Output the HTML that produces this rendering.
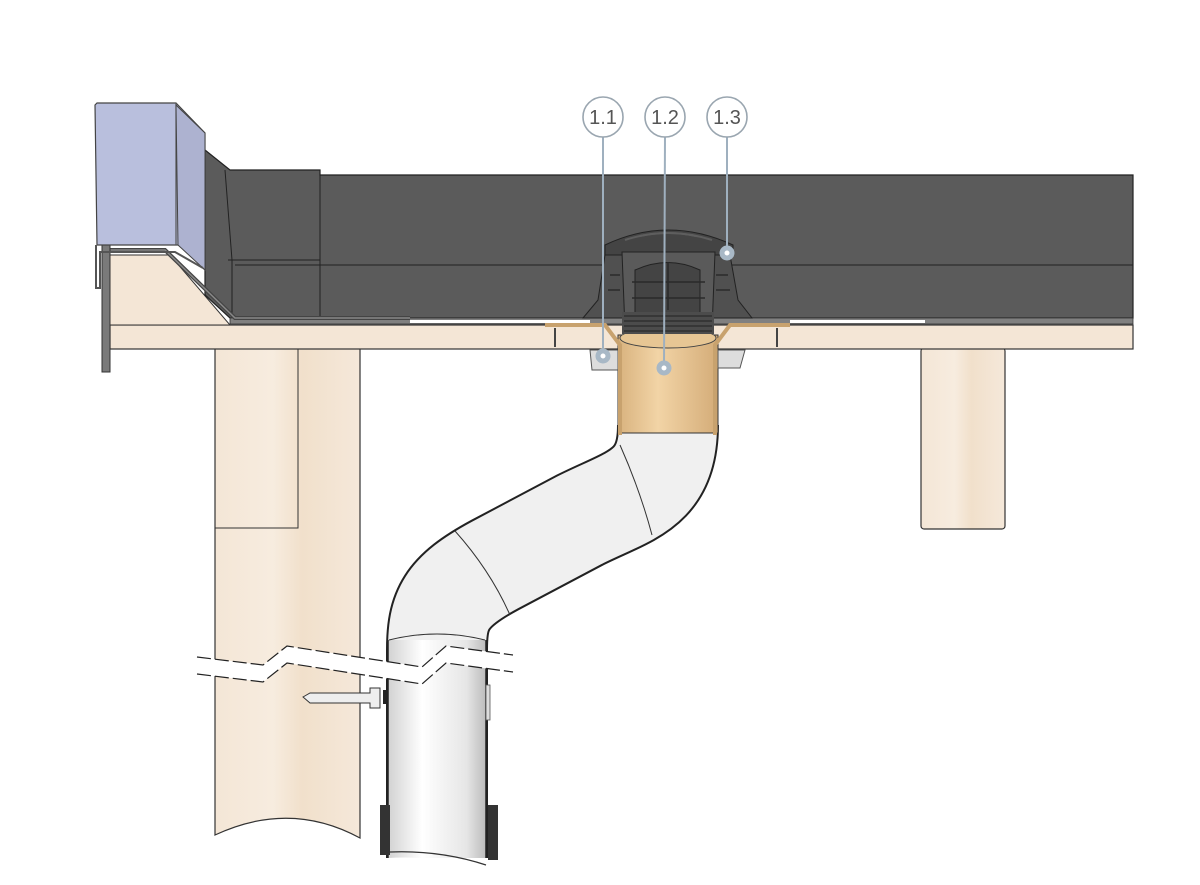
<!DOCTYPE html>
<html><head><meta charset="utf-8"><style>html,body{margin:0;padding:0;background:#fff}svg{display:block}</style></head>
<body>
<svg width="1200" height="885" viewBox="0 0 1200 885" xmlns="http://www.w3.org/2000/svg">
<defs>
<linearGradient id="wood" x1="0" x2="1" y1="0" y2="0">
<stop offset="0" stop-color="#f4e6d6"/><stop offset="0.4" stop-color="#f7ecdf"/><stop offset="0.6" stop-color="#f1e0cb"/><stop offset="1" stop-color="#f5e8da"/></linearGradient>
<linearGradient id="pipeV" x1="0" x2="1"><stop offset="0" stop-color="#d2d2d2"/><stop offset="0.35" stop-color="#ffffff"/><stop offset="0.8" stop-color="#e6e6e6"/><stop offset="1" stop-color="#bcbcbc"/></linearGradient>
<linearGradient id="brass" x1="0" x2="1"><stop offset="0" stop-color="#d8b27e"/><stop offset="0.4" stop-color="#f2d4a6"/><stop offset="1" stop-color="#d4ac78"/></linearGradient>
</defs>

<path d="M215 348 H360 V838 Q290 800 215 835 Z" fill="url(#wood)" stroke="#333" stroke-width="1.2"/>
<path d="M215 528 H298 V348" fill="none" stroke="#333" stroke-width="1"/>
<rect x="921" y="348" width="84" height="181" rx="3" fill="url(#wood)" stroke="#333" stroke-width="1.2"/>

<rect x="110" y="325" width="1023" height="24" fill="#f4e6d6" stroke="#333" stroke-width="1.2"/>
<path d="M110 255 H170 L230 325 H110 Z" fill="#f4e6d6" stroke="#333" stroke-width="1"/>

<path d="M205 150 L230 170 H320 V175 H1133 V318 H230 L205 295 Z" fill="#5b5b5b" stroke="#222" stroke-width="1.2"/>
<line x1="235" y1="265" x2="1133" y2="265" stroke="#222" stroke-width="1"/>
<line x1="228" y1="260" x2="320" y2="260" stroke="#222" stroke-width="1"/>
<line x1="320" y1="170" x2="320" y2="318" stroke="#222" stroke-width="1"/>
<path d="M225 170 L232 260 V318" fill="none" stroke="#222" stroke-width="1"/>
<rect x="230" y="318" width="903" height="6" fill="#808080" stroke="#333" stroke-width="0.8"/>
<rect x="410" y="320" width="180" height="3" fill="#fff"/>
<rect x="790" y="320" width="135" height="3" fill="#fff"/>
<path d="M105 250 H165 L235 318 H410" fill="none" stroke="#444" stroke-width="4"/>
<path d="M105 250 H165 L235 318 H410" fill="none" stroke="#888" stroke-width="1.5"/>

<rect x="102" y="245" width="8" height="127" fill="#7a7a7a" stroke="#333" stroke-width="1"/>
<path d="M95 105 L97 103 H176 L205 133 V270 L180 245 H97 Z" fill="#b9bfdd" stroke="#444" stroke-width="1.2"/>
<path d="M176 103 V245" stroke="#555" stroke-width="1.2"/>
<path d="M176 105 L205 133 V270 L178 245 Z" fill="#adb2d0" stroke="#444" stroke-width="1"/>
<path d="M96 245 V288 H100 V252 H175 L203 268" fill="none" stroke="#555" stroke-width="2"/>

<path d="M668 425 C668 490 630 495 580 520 L495 565 C445 592 437 610 437 650 L437 858" fill="none" stroke="#222" stroke-width="102"/>
<path d="M668 425 C668 490 630 495 580 520 L495 565 C445 592 437 610 437 650 L437 858" fill="none" stroke="#f0f0f0" stroke-width="98"/>
<rect x="388" y="640" width="98" height="218" fill="url(#pipeV)"/>
<path d="M388 858 V640 M486 640 V858" stroke="#222" stroke-width="1.5"/>
<path d="M389 640 Q437 628 485 640" fill="none" stroke="#333" stroke-width="1"/>
<path d="M455 531 Q490 570 510 615" fill="none" stroke="#333" stroke-width="1"/>
<path d="M620 445 Q640 490 652 535" fill="none" stroke="#333" stroke-width="1"/>
<path d="M388 858 Q440 855 486 870 L486 885 H388 Z" fill="#fff"/>
<path d="M390 852 Q440 850 486 865" fill="none" stroke="#333" stroke-width="1.2"/>
<rect x="380" y="805" width="10" height="50" fill="#333"/>
<rect x="488" y="805" width="10" height="55" fill="#333"/>
<rect x="486" y="685" width="4" height="35" fill="#ddd" stroke="#555" stroke-width="0.8"/>

<rect x="618" y="335" width="100" height="98" fill="url(#brass)" stroke="#333" stroke-width="1"/>
<ellipse cx="668" cy="338" rx="48" ry="10" fill="#e7c694" stroke="#444" stroke-width="1"/>
<path d="M590 350 H618 V370 H592 Z" fill="#ddd" stroke="#555"/>
<path d="M718 350 H745 L740 368 H718 Z" fill="#ddd" stroke="#555"/>
<path d="M545 325 H605 L620 345 V435 M790 325 H730 L715 345 V435" fill="none" stroke="#c8a26e" stroke-width="4"/>

<path d="M583 318 L598 300 L605 255 Q668 222 730 255 L738 300 L752 318 Z" fill="#505050" stroke="#222" stroke-width="1"/>
<path d="M605 245 Q668 215 733 245 L733 255 H605 Z" fill="#444" stroke="#222"/>
<g stroke="#5e5e5e" stroke-width="2" fill="none"><path d="M625 240 Q668 226 712 240"/><path d="M640 236 Q668 230 696 236"/></g>
<path d="M622 252 H715 L712 330 H625 Z" fill="#5a5a5a" stroke="#222"/>
<path d="M635 270 Q668 255 700 270 V320 H635 Z" fill="#444" stroke="#222"/>
<g stroke="#2a2a2a" stroke-width="1.5">
<line x1="632" y1="282" x2="705" y2="282"/><line x1="632" y1="298" x2="705" y2="298"/>
<line x1="668" y1="262" x2="668" y2="310"/>
<line x1="610" y1="275" x2="620" y2="275"/><line x1="608" y1="290" x2="620" y2="290"/>
<line x1="716" y1="275" x2="728" y2="275"/><line x1="716" y1="290" x2="730" y2="290"/>
</g>
<rect x="622" y="312" width="92" height="22" fill="#4c4c4c"/>
<g stroke="#222" stroke-width="1"><line x1="624" y1="316" x2="712" y2="316"/><line x1="624" y1="321" x2="712" y2="321"/><line x1="624" y1="326" x2="712" y2="326"/><line x1="624" y1="331" x2="712" y2="331"/></g>
<line x1="555" y1="328" x2="555" y2="347" stroke="#444" stroke-width="2"/>
<line x1="777" y1="328" x2="777" y2="347" stroke="#444" stroke-width="2"/>

<path d="M197 657 L263 665 L287 646 L422 667 L446 646 L513 655 L513 672 L446 663 L422 684 L287 663 L263 682 L197 674 Z" fill="#fff"/>
<g fill="none" stroke="#222" stroke-width="1.2" stroke-dasharray="14 4">
<path d="M197 657 L263 665 L287 646 L422 667 L446 646 L513 655"/>
<path d="M197 674 L263 682 L287 663 L422 684 L446 663 L513 672"/>
</g>
<path d="M303 697 L310 693 H370 V688 H380 V708 H370 V703 H310 Z" fill="#eee" stroke="#333" stroke-width="1"/>
<rect x="383" y="690" width="4" height="14" fill="#222"/>

<g stroke="#9fb0bf" stroke-width="2" fill="none">
<line x1="603" y1="135" x2="603" y2="355"/>
<line x1="665" y1="135" x2="664" y2="368"/>
<line x1="727" y1="135" x2="727" y2="252"/>
</g>
<g fill="#fff" stroke="#a8b8c6" stroke-width="5">
<circle cx="603" cy="356" r="5"/><circle cx="664" cy="368" r="5"/><circle cx="727" cy="253" r="5"/>
</g>
<g fill="#fff" stroke="#9aa6b0" stroke-width="1.6">
<circle cx="603" cy="117" r="20"/><circle cx="665" cy="117" r="20"/><circle cx="727" cy="117" r="20"/>
</g>
<g font-family="Liberation Sans, sans-serif" font-size="20" fill="#555" text-anchor="middle">
<text x="603" y="124">1.1</text><text x="665" y="124">1.2</text><text x="727" y="124">1.3</text>
</g>
</svg>
</body></html>
